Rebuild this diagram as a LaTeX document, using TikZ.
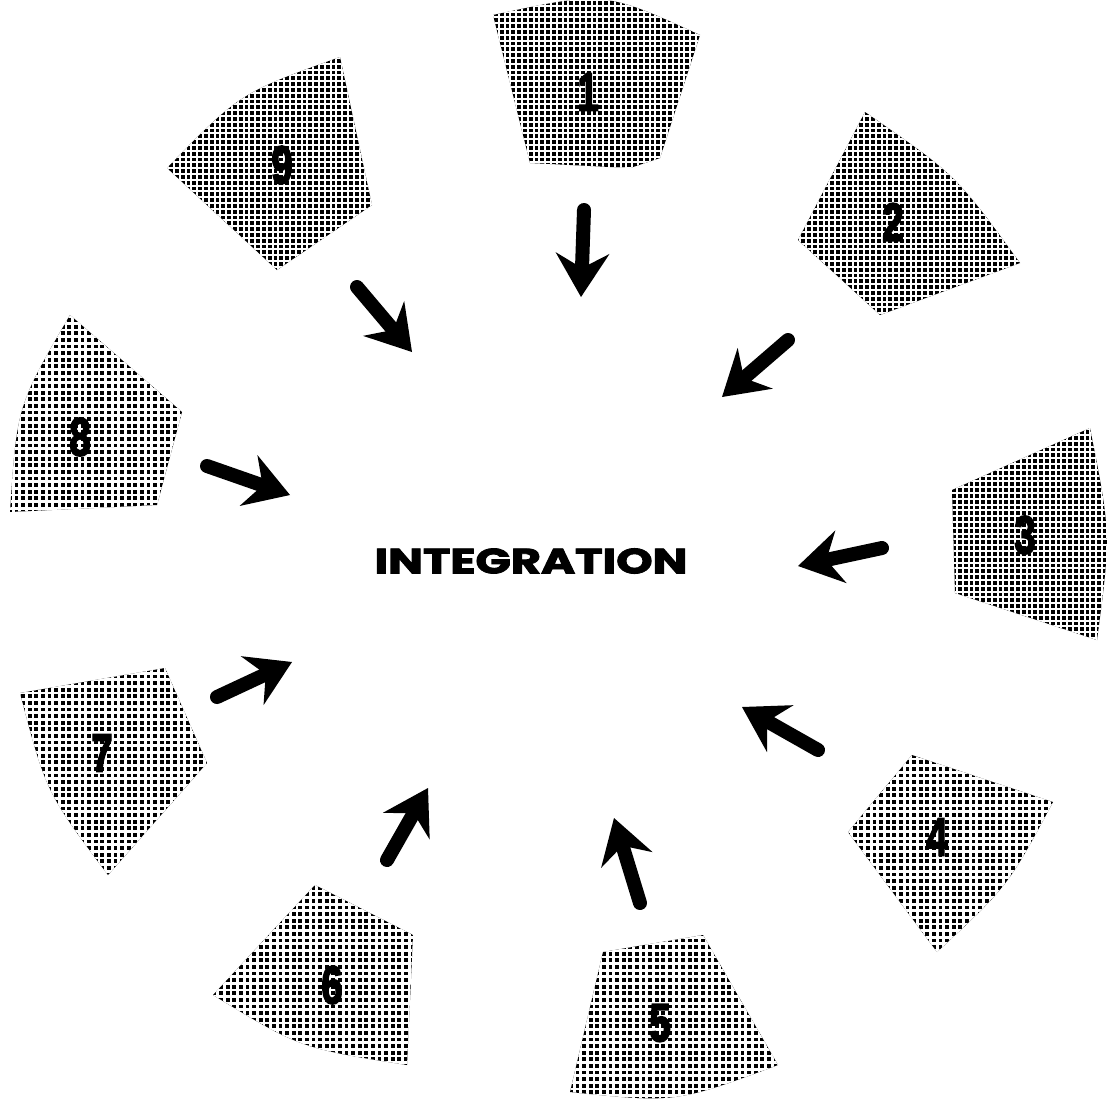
\documentclass[tikz,border=0pt]{standalone}
\usepackage{fontspec}
\newfontfamily\heavyfont[BoldFeatures={FakeBold=3}]{Liberation Sans}
\newfontfamily\titlefont[BoldFeatures={FakeBold=2.5}]{Poppins}
\usetikzlibrary{arrows.meta}
\tikzset{
  fatarrow/.style={line width=14pt, line cap=round,
    -{Stealth[length=44pt,width=54pt,inset=15pt,line width=0pt]}},
  numlabel/.style={inner sep=0pt, font=\heavyfont\bfseries\fontsize{54}{54}\selectfont},
  titlelabel/.style={inner sep=0pt, font=\titlefont\bfseries\fontsize{35}{35}\selectfont}
}
\newcommand{\halftonetile}[3]{%
  \begin{scope}
    \clip #1;
    \fill[black] (0,0) rectangle (1107,1106);
    \foreach \k in {0,#3,...,1110} {
      \draw[white,line width=#2] (\k,0) -- (\k,1106);
      \draw[white,line width=#2] (0,\k) -- (1107,\k);
    }
  \end{scope}}
\begin{document}
\begin{tikzpicture}[x=1pt,y=-1pt]
\useasboundingbox (0,0) rectangle (1107,1106);
\fill[white] (0,0) rectangle (1107,1106);

% tiles
\halftonetile{(493,15) .. controls (604,-9) .. (700,35) -- (660,158) -- (630,168) -- (530,163) -- cycle}{2.1pt}{5.8}
\halftonetile{(865,112) .. controls (956,175) .. (1020,263) -- (880,315) -- (798,240) -- cycle}{2.1pt}{5.8}
\halftonetile{(952,490) -- (1090,428) .. controls (1111,534) .. (1097,640) -- (955,593) -- cycle}{2.1pt}{5.8}
\halftonetile{(848,832) -- (912,755) -- (1053,802) .. controls (1008,886) .. (937,952) -- cycle}{2.9pt}{6.6}
\halftonetile{(603,952) -- (703,935) -- (778,1065) .. controls (676,1103) .. (570,1092) -- cycle}{2.9pt}{6.6}
\halftonetile{(213,995) -- (315,885) -- (413,935) -- (407,1065) .. controls (300,1048) .. (213,995) -- cycle}{2.9pt}{6.6}
\halftonetile{(20,693) -- (165,668) -- (207,763) -- (108,875) .. controls (46,792) .. (20,693) -- cycle}{2.9pt}{6.6}
\halftonetile{(70,315) -- (182,412) -- (157,505) -- (10,512) .. controls (17,406) .. (70,315) -- cycle}{2.9pt}{6.6}
\halftonetile{(167,168) .. controls (240,93) .. (340,57) -- (372,205) -- (277,270) -- cycle}{2.1pt}{5.8}

% number labels
\node[numlabel] (n1) at (588,92) {\scalebox{0.72}[1]{1}};
\node[numlabel] (n2) at (893,222) {\scalebox{0.72}[1]{2}};
\node[numlabel] (n3) at (1025,535) {\scalebox{0.72}[1]{3}};
\node[numlabel] (n4) at (937,837) {\scalebox{0.72}[1]{4}};
\node[numlabel] (n5) at (660,1023) {\scalebox{0.72}[1]{5}};
\node[numlabel] (n6) at (332,985) {\scalebox{0.72}[1]{6}};
\node[numlabel] (n7) at (102,753) {\scalebox{0.72}[1]{7}};
\node[numlabel] (n8) at (80,437) {\scalebox{0.72}[1]{8}};
\node[numlabel] (n9) at (282,165) {\scalebox{0.72}[1]{9}};

% centre
\node[titlelabel] (center) at (531,561) {\resizebox{313pt}{25pt}{INTEGRATION}};

% arrow end points
\coordinate (t1) at (584,210); \coordinate (h1) at (581,297);
\coordinate (t2) at (788,340); \coordinate (h2) at (722,397);
\coordinate (t3) at (882,548); \coordinate (h3) at (798,566);
\coordinate (t4) at (818,750); \coordinate (h4) at (742,707);
\coordinate (t5) at (640,903); \coordinate (h5) at (614,818);
\coordinate (t6) at (387,860); \coordinate (h6) at (428,788);
\coordinate (t7) at (217,697); \coordinate (h7) at (292,662);
\coordinate (t8) at (207,466); \coordinate (h8) at (290,495);
\coordinate (t9) at (357,287); \coordinate (h9) at (412,352);

\foreach \i in {1,...,9} {\draw[fatarrow] (t\i) -- (h\i);}
\end{tikzpicture}
\end{document}
